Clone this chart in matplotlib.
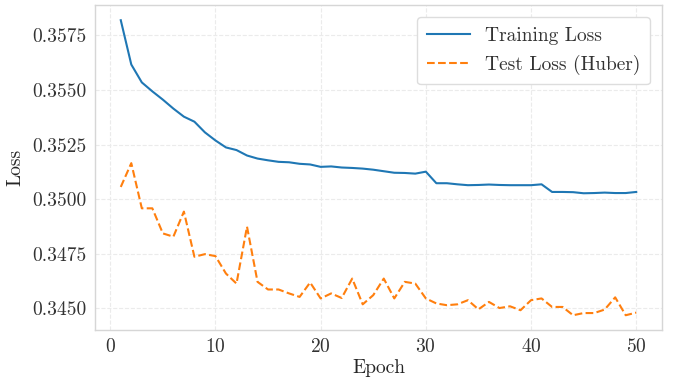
import numpy as np
import matplotlib
matplotlib.use("Agg")
import matplotlib.pyplot as plt

plt.rcParams['font.family'] = ['cmr10', 'DejaVu Serif']
plt.rcParams['mathtext.fontset'] = 'cm'
plt.rcParams['axes.formatter.use_mathtext'] = True
plt.rcParams['font.size'] = 14

epochs = np.arange(1, 51)

train_loss = [
    0.35820, 0.35617, 0.35535, 0.35494, 0.35456, 0.35415, 0.35378, 0.35355, 0.35306, 0.35269,
    0.35237, 0.35225, 0.35200, 0.35186, 0.35178, 0.35171, 0.35169, 0.35162, 0.35159, 0.35148,
    0.35150, 0.35145, 0.35143, 0.35140, 0.35135, 0.35128, 0.35121, 0.35120, 0.35117, 0.35126,
    0.35073, 0.35073, 0.35068, 0.35064, 0.35065, 0.35067, 0.35065, 0.35064, 0.35064, 0.35064,
    0.35068, 0.35033, 0.35033, 0.35032, 0.35027, 0.35028, 0.35030, 0.35028, 0.35028, 0.35033,
]

test_loss = [
    0.35056, 0.35165, 0.34958, 0.34958, 0.34843, 0.34828, 0.34943, 0.34736, 0.34748, 0.34739,
    0.34659, 0.34613, 0.34874, 0.34621, 0.34586, 0.34586, 0.34568, 0.34552, 0.34618, 0.34545,
    0.34568, 0.34547, 0.34636, 0.34518, 0.34560, 0.34636, 0.34545, 0.34621, 0.34613, 0.34545,
    0.34522, 0.34514, 0.34518, 0.34537, 0.34495, 0.34529, 0.34501, 0.34509, 0.34491, 0.34537,
    0.34545, 0.34506, 0.34506, 0.34468, 0.34478, 0.34478, 0.34494, 0.34550, 0.34468, 0.34480,
]

fig = plt.figure(figsize=(6.81, 3.80), dpi=100)
ax = fig.add_axes([0.1395, 0.1316, 0.8326, 0.854])

ax.plot(epochs, train_loss, color='#1f77b4', lw=1.5, label='Training Loss')
ax.plot(epochs, test_loss, color='#ff7f0e', lw=1.5, ls='--', label='Test Loss (Huber)')

ax.set_xlabel('Epoch', labelpad=2, color='#262626')
ax.set_ylabel('Loss', labelpad=6, color='#262626')
ax.set_xticks([0, 10, 20, 30, 40, 50])
ax.set_yticks([0.3450, 0.3475, 0.3500, 0.3525, 0.3550, 0.3575])
ax.yaxis.set_major_formatter(matplotlib.ticker.FormatStrFormatter('%.4f'))
ax.tick_params(length=0, pad=6, labelcolor='#333333')

ax.grid(True, ls='--', color='#ebebeb', lw=0.8)
for s in ax.spines.values():
    s.set_color('#d6d6d6')
    s.set_linewidth(1.0)

leg = ax.legend(loc='upper right', frameon=True, fancybox=True, framealpha=1.0,
                edgecolor='#dddddd', borderpad=0.5, handlelength=2.2, labelspacing=0.5,
                borderaxespad=0.6)
for t in leg.get_texts():
    t.set_color('#333333')

fig.savefig('out.png', dpi=100)
